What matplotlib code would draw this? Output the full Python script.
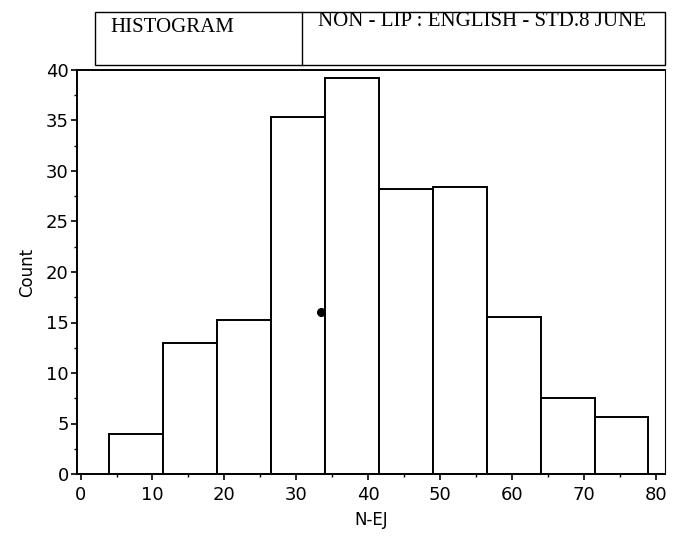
import numpy as np
import matplotlib.pyplot as plt
from matplotlib.patches import Rectangle
from matplotlib.ticker import MultipleLocator

plt.rcParams['font.family'] = ['DejaVu Sans']

# histogram bins of N-EJ scores
bin_edges = [4, 11.5, 19, 26.5, 34, 41.5, 49, 56.5, 64, 71.5, 79]
counts = [4, 13, 15.2, 35.3, 39.2, 28.2, 28.4, 15.5, 7.5, 5.6]
mean_x = 33.5
mean_y = 16

box_left = "HISTOGRAM"
box_right = "NON - LIP : ENGLISH - STD.8 JUNE"

fig = plt.figure(figsize=(6.77, 5.38), dpi=100)
ax = fig.add_axes([77 / 677, 1 - 474 / 538, (665 - 77) / 677, (474 - 70) / 538])

widths = np.diff(bin_edges)
ax.bar(bin_edges[:-1], counts, width=widths, align='edge',
       facecolor='white', edgecolor='black', linewidth=1.4)
ax.plot([mean_x], [mean_y], marker='o', color='black', markersize=5.5)

ax.set_xlim(-0.5, 81.3)
ax.set_ylim(0, 40)
ax.xaxis.set_major_locator(MultipleLocator(10))
ax.xaxis.set_minor_locator(MultipleLocator(5))
ax.yaxis.set_major_locator(MultipleLocator(5))
ax.yaxis.set_minor_locator(MultipleLocator(2.5))
ax.tick_params(which='major', direction='out', length=4, width=1.2,
               labelsize=13, colors='black', pad=2)
ax.tick_params(axis='x', which='major', pad=5)
ax.tick_params(which='minor', direction='out', length=2, width=1)
for s in ax.spines.values():
    s.set_linewidth(1.4)
ax.spines['right'].set_linewidth(0.8)

ax.set_xlabel("N-EJ", fontsize=12, labelpad=5)
ax.set_ylabel("Count", fontsize=12, labelpad=7)

# header box above the plot
x0, x1, xm = 95 / 677, 665 / 677, 302 / 677
y0, y1 = 1 - 65 / 538, 1 - 12 / 538
fig.add_artist(Rectangle((x0, y0), x1 - x0, y1 - y0, transform=fig.transFigure,
                         fill=False, edgecolor='black', linewidth=1.0))
fig.add_artist(plt.Line2D([xm, xm], [y0, y1], transform=fig.transFigure,
                          color='black', linewidth=1.0))
fig.text(110 / 677, 1 - 28 / 538, box_left, family='Liberation Serif',
         fontsize=15, va='center', ha='left')
fig.text(318 / 677, 1 - 22 / 538, box_right, family='Liberation Serif',
         fontsize=15, va='center', ha='left')

fig.savefig("out.png", dpi=100)
